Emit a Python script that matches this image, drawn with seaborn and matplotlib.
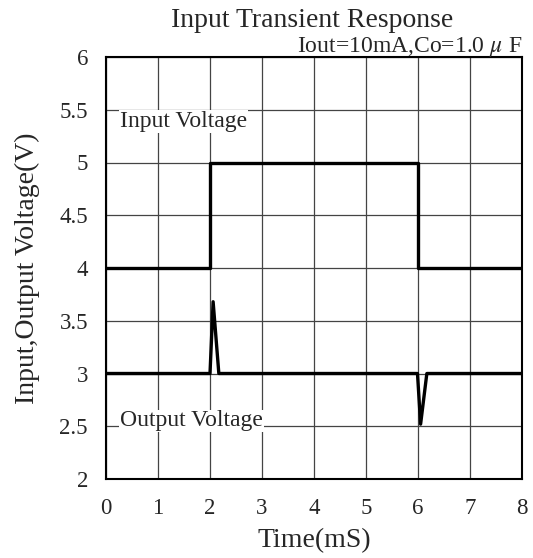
import numpy as np
import pandas as pd
import matplotlib
matplotlib.use("Agg")
import matplotlib.pyplot as plt
import seaborn as sns

# ---- data ----
t_in = [0, 2.0, 2.0, 6.0, 6.0, 8]
v_in = [4, 4, 5, 5, 4, 4]

t_out = [0, 2.0, 2.06, 2.17, 5.99, 6.05, 6.17, 8]
v_out = [3, 3, 3.68, 3, 3, 2.52, 3, 3]

x_ticks = [0, 1, 2, 3, 4, 5, 6, 7, 8]
y_ticks = [2, 2.5, 3, 3.5, 4, 4.5, 5, 5.5, 6]
y_labels = ["2", "2.5", "3", "3.5", "4", "4.5", "5", "5.5", "6"]

sns.set_style("white")
plt.rcParams["font.family"] = ["Liberation Serif", "DejaVu Serif"]
plt.rcParams["mathtext.fontset"] = "stix"

df_in = pd.DataFrame({"t": t_in, "v": v_in})
df_out = pd.DataFrame({"t": t_out, "v": v_out})

W, H = 533, 558
fig = plt.figure(figsize=(W / 100, H / 100), dpi=100)
# axes box in pixels: left 106, right 522, top 57, bottom 479
ax = fig.add_axes([106 / W, 1 - 479 / H, 416 / W, 422 / H])

sns.lineplot(data=df_in, x="t", y="v", ax=ax, color="black", lw=2.4,
             sort=False, estimator=None, zorder=3)
sns.lineplot(data=df_out, x="t", y="v", ax=ax, color="black", lw=2.4,
             sort=False, estimator=None, zorder=3)

ax.set_xlim(0, 8)
ax.set_ylim(2, 6)
ax.set_xticks(x_ticks)
ax.set_yticks(y_ticks)
ax.set_yticklabels(y_labels)
ax.tick_params(axis="both", length=0, labelsize=16.5)
ax.tick_params(axis="x", pad=14)
ax.tick_params(axis="y", pad=13)
ax.grid(True, color="#444444", lw=0.9)
for s in ax.spines.values():
    s.set_color("black")
    s.set_linewidth(1.5)

ax.set_xlabel("Time(mS)", fontsize=20, labelpad=6)
ax.set_ylabel("Input,Output Voltage(V)", fontsize=20, labelpad=14)

fig.text(312 / W, 1 - 26.7 / H, "Input Transient Response", ha="center",
         va="baseline", fontsize=20)
fig.text(522 / W, 1 - 51.7 / H, "Iout=10mA,Co=1.0 $\\mu$ F", ha="right",
         va="baseline", fontsize=17)

ax.text(0.27, 5.49, "Input Voltage", fontsize=17, va="top", ha="left",
        zorder=4, bbox=dict(facecolor="white", edgecolor="none", pad=0.5))
ax.text(0.27, 2.5, "Output Voltage", fontsize=17, va="baseline", ha="left",
        zorder=4, bbox=dict(facecolor="white", edgecolor="none", pad=0.5))

fig.savefig("out.png", dpi=100)
